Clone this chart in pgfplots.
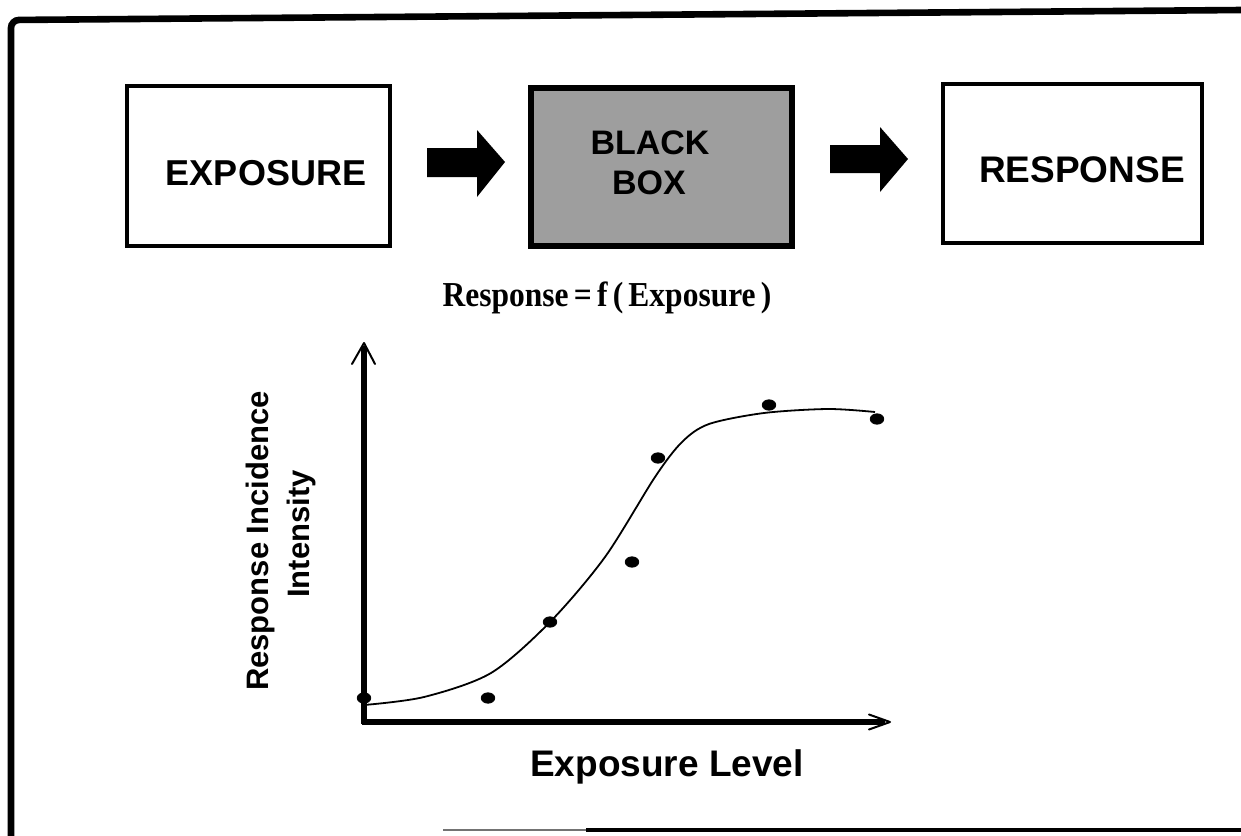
\documentclass[border=0pt]{standalone}
\usepackage{pgfplots}
\pgfplotsset{compat=1.18}
\usepackage{fontspec}
\setmainfont{Liberation Sans}
\newfontfamily\tms{Liberation Serif}
\definecolor{boxgray}{RGB}{158,158,158}
\begin{document}
\begin{tikzpicture}
\begin{scope}[x=0.5pt,y=-0.5pt]
% page size
\path[use as bounding box] (0,0) rectangle (1241,835);
% outer frame
\draw[line width=3.3pt, rounded corners=4pt] (11,836) -- (11,20) -- (1242,10);
\draw[line width=1.2pt, black!55] (443,830) -- (586,830);
\draw[line width=2.4pt] (586,830) -- (1242,830);
% boxes
\draw[line width=2.1pt] (127,86) rectangle (390,246);
\draw[line width=3pt, fill=boxgray] (531,88) rectangle (792,246);
\draw[line width=2.1pt] (943,84) rectangle (1202,243);
% block arrows
\fill (427,148) -- (477,148) -- (477,130) -- (505,162) -- (477,197) -- (477,177) -- (427,177) -- cycle;
\fill (830,145) -- (880,145) -- (880,127) -- (908,159) -- (880,192) -- (880,173) -- (830,173) -- cycle;
% box texts
\node[font=\bfseries\fontsize{18}{20}\selectfont] at (266,173) {EXPOSURE};
\node[font=\bfseries\fontsize{17}{19}\selectfont] at (650,143) {BLACK};
\node[font=\bfseries\fontsize{17}{19}\selectfont] at (649,183) {BOX};
\node[font=\bfseries\fontsize{18.5}{20}\selectfont] at (1082,170) {RESPONSE};
% relation title
\node[font=\tms\bfseries\fontsize{17.5}{20}\selectfont, xscale=0.9] at (607,298) {Response\,=\,f\,(\,Exposure\,)};
% axis labels
\node[font=\bfseries\fontsize{15.5}{18}\selectfont, rotate=90] at (260,541) {Response Incidence};
\node[font=\bfseries\fontsize{15.5}{18}\selectfont, rotate=90] at (301,534) {Intensity};
\node[font=\bfseries\fontsize{18.5}{20}\selectfont, anchor=base] at (667,776) {Exposure Level};
\end{scope}
% the dose-response plot
\begin{axis}[
  at={(182pt,-361pt)}, anchor=south west,
  scale only axis, width=263pt, height=189.5pt,
  xmin=0, xmax=526, ymin=0, ymax=379,
  axis lines=none, clip=false,
]
\draw[line width=3pt] (axis cs:-2,0) -- (axis cs:521,0);
\draw[line width=3pt] (axis cs:0,-2) -- (axis cs:0,376);
\draw[line width=1pt, line cap=round, line join=round] (axis cs:505,7.5) -- (axis cs:526,0) -- (axis cs:505,-7.5);
\draw[line width=1pt, line cap=round, line join=round] (axis cs:-12,358) -- (axis cs:0,379) -- (axis cs:11,358);
\addplot[no marks, smooth, tension=0.5, line width=0.9pt] coordinates {
 (0,17) (60,25) (127,49) (186,100) (241,165) (291,245) (318,280)
 (345,298) (400,309) (464,313) (511,310)
};
\addplot[only marks, mark=*, mark size=2.6pt, mark options={xscale=1.3, fill=black}] coordinates {
 (0,24) (124,24) (186,100) (268,160) (294,264) (405,317) (513,303)
};
\end{axis}
\end{tikzpicture}
\end{document}
